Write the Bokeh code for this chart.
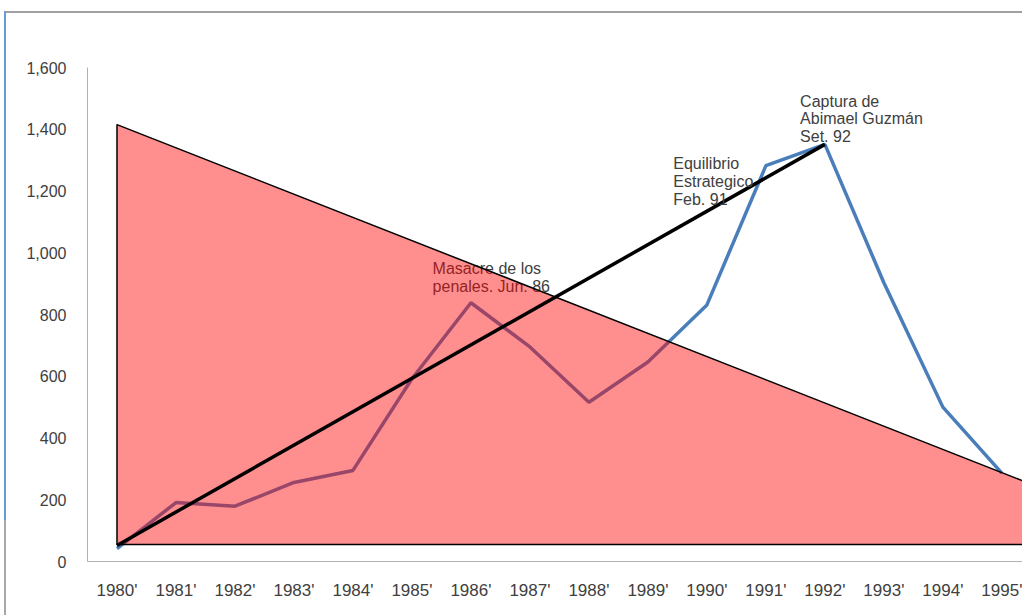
from bokeh.plotting import figure
from bokeh.models import Range1d, FixedTicker, NumeralTickFormatter, InlineStyleSheet
from bokeh.core.properties import value
from bokeh.embed import file_html
from bokeh.resources import INLINE

# ---- data ----
years = ["1980'", "1981'", "1982'", "1983'", "1984'", "1985'", "1986'", "1987'",
         "1988'", "1989'", "1990'", "1991'", "1992'", "1993'", "1994'", "1995'"]
actions = [42, 191, 179, 256, 295, 592, 838, 695, 516, 646, 831, 1282, 1351, 903, 500, 286]

# red triangle (category index, value)
tri_x = [0, 0, 18.1]
tri_y = [1415, 55, 55]

# black trend line
trend_x = [0, 12]
trend_y = [52, 1351]

notes = ["Masacre de los\npenales. Jun. 86",
         "Equilibrio\nEstrategico\nFeb. 91",
         "Captura de\nAbimael Guzmán\nSet. 92"]
note_x = [5.35, 9.43, 11.58]
note_y = [975, 1315, 1518]

y_ticks = [0, 200, 400, 600, 800, 1000, 1200, 1400, 1600]

idx = list(range(len(years)))

frame_css = InlineStyleSheet(css="""
:host { position: relative; }
:host::before { content: ""; position: absolute; left: 4px; top: 11px; right: 0px; height: 2px;
                background: #a0a0a0; z-index: 20; pointer-events: none; }
:host::after { content: ""; position: absolute; left: 4px; top: 11px; width: 2px; height: 604px;
               background: linear-gradient(to bottom, #6a9ad8 0px, #6a9ad8 509px, #a8a8a8 509px, #a8a8a8 604px);
               z-index: 20; pointer-events: none; }
""")

p = figure(width=1022, height=615, output_backend="svg", toolbar_location=None,
           x_range=Range1d(-0.5, 15.35), y_range=Range1d(0, 1600),
           min_border_left=87, min_border_right=0, min_border_top=67, min_border_bottom=54,
           stylesheets=[frame_css])
p.outline_line_color = None
p.grid.grid_line_color = None
p.background_fill_color = "white"
p.border_fill_color = "white"

# axes
p.xaxis.ticker = FixedTicker(ticks=idx)
p.xaxis.major_label_overrides = {i: y for i, y in zip(idx, years)}
p.yaxis.ticker = FixedTicker(ticks=y_ticks)
p.yaxis.formatter = NumeralTickFormatter(format="0,0")
for ax in (p.xaxis[0], p.yaxis[0]):
    ax.major_tick_line_color = None
    ax.minor_tick_line_color = None
    ax.axis_line_color = "#b0b0b0"
    ax.axis_line_width = 1
    ax.major_label_text_color = "#404040"
    ax.major_label_text_font = "Liberation Sans"
p.yaxis.major_label_text_font_size = "16px"
p.yaxis.major_label_standoff = 15
p.xaxis.major_label_text_font_size = "17px"
p.xaxis.major_label_standoff = 13

# blue series
p.line(idx, actions, line_color="#4a7ebb", line_width=3.5)

# first note beneath the triangle
p.text(x=[note_x[0]], y=[note_y[0]], text=[notes[0]], text_font=value("Liberation Sans"),
       text_font_size="16px", text_color="#404040", text_baseline="top", text_line_height=1.03)

# triangle
p.patch(tri_x, tri_y, fill_color="#ff0000", fill_alpha=0.44, line_color="black", line_width=1.5)

# trend line
p.line(trend_x, trend_y, line_color="black", line_width=3.5)

# other notes
p.text(x=note_x[1:], y=note_y[1:], text=notes[1:], text_font=value("Liberation Sans"),
       text_font_size="16px", text_color="#404040", text_baseline="top", text_line_height=1.03)

open("out.html", "w").write(file_html(p, INLINE))
